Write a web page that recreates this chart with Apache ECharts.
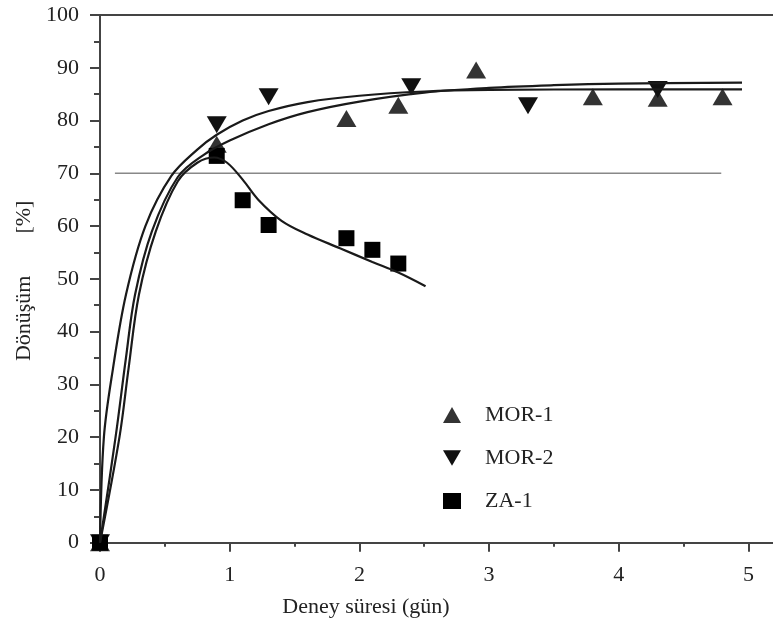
<!DOCTYPE html>
<html><head><meta charset="utf-8">
<script src="https://cdn.jsdelivr.net/npm/echarts@6/dist/echarts.min.js"></script>
<style>html,body{margin:0;padding:0;background:#fff}#c{width:773px;height:632px}</style>
</head><body><div id="c"></div>
<script>
// ---- data ----
const xMajorTicks = [0, 1, 2, 3, 4, 5];
const xMinorTicks = [0.5, 1.5, 2.5, 3.5, 4.5];
const yMajorTicks = [0, 10, 20, 30, 40, 50, 60, 70, 80, 90, 100];
const yMinorTicks = [5, 15, 25, 35, 45, 55, 65, 75, 85, 95];

const mor1X = [0, 0.9, 1.9, 2.3, 2.9, 3.8, 4.3, 4.8];
const mor1Y = [0, 75.5, 80.4, 82.9, 89.6, 84.5, 84.2, 84.5];
const mor2X = [0, 0.9, 1.3, 2.4, 3.3, 4.3];
const mor2Y = [0, 79.2, 84.5, 86.4, 82.8, 85.9];
const za1X = [0, 0.9, 1.1, 1.3, 1.9, 2.1, 2.3];
const za1Y = [0, 73.3, 64.9, 60.2, 57.7, 55.5, 52.9];

// fitted curves
const fitMor2X = [0, 0.03, 0.1, 0.2, 0.35, 0.55, 0.75, 0.9, 1.1, 1.3, 1.6, 2, 2.5, 3, 4, 4.95];
const fitMor2Y = [0, 20, 33, 47, 60, 69.5, 74.5, 77.3, 80, 81.8, 83.5, 84.7, 85.5, 85.8, 85.9, 85.9];
const fitMor1X = [0, 0.12, 0.2, 0.27, 0.4, 0.6, 0.8, 1, 1.3, 1.6, 2, 2.5, 3, 3.5, 4, 4.95];
const fitMor1Y = [0, 20, 35, 47, 59, 69.3, 73.5, 76.2, 79.3, 81.6, 83.6, 85.3, 86.2, 86.7, 87, 87.2];
const fitZa1X = [0, 0.15, 0.22, 0.3, 0.43, 0.6, 0.75, 0.88, 0.98, 1.1, 1.22, 1.4, 1.6, 1.85, 2.1, 2.3, 2.51];
const fitZa1Y = [0, 20, 33, 47, 59, 68.5, 72, 73, 72, 68.8, 65, 61, 58.4, 55.8, 53.2, 51.2, 48.6];

const refX = [0.115, 4.79];
const refY = [70, 70];

const names = ['MOR-1', 'MOR-2', 'ZA-1'];
const xName = 'Deney süresi (gün)';
const yNameMain = 'Dönüşüm';
const yNameUnit = '[%]';

// ---- helpers ----
const zip = (xs, ys) => xs.map((x, i) => [x, ys[i]]);
const FONT = "'Liberation Serif', 'Times New Roman', serif";
const AX = '#444';
const TXT = '#222';
const downTri = 'path://M0,0L20,0L10,17Z';

const baseX = { type: 'value', min: -0.0386, max: 5.189, gridIndex: 0, splitLine: { show: false } };
const baseY = { type: 'value', min: -0.76, max: 100, gridIndex: 0, splitLine: { show: false } };

const fitLine = (name, xs, ys) => ({
  name: name, type: 'line', data: zip(xs, ys), symbol: 'none', smooth: 0.35, z: 4,
  lineStyle: { color: '#1a1a1a', width: 2.2 }
});

const chart = echarts.init(document.getElementById('c'), null, { renderer: 'canvas' });
chart.setOption({
  backgroundColor: '#fff',
  animation: false,
  grid: { left: 95, right: 0, top: 15, bottom: 85.3, containLabel: false, outerBoundsMode: 'none' },
  xAxis: [
    Object.assign({}, baseX, {
      position: 'bottom',
      axisLine: { show: true, lineStyle: { color: AX, width: 2 } },
      axisTick: { show: true, inside: false, length: 9, customValues: xMajorTicks, lineStyle: { color: AX, width: 2 } },
      axisLabel: { show: true, customValues: xMajorTicks, margin: 18, color: TXT, fontFamily: FONT, fontSize: 22 },
      name: xName, nameLocation: 'middle', nameGap: 50,
      nameTextStyle: { color: TXT, fontFamily: FONT, fontSize: 22, padding: [0, 136, 0, 0] }
    }),
    Object.assign({}, baseX, {
      position: 'bottom',
      axisLine: { show: false },
      axisTick: { show: true, inside: false, length: 4, customValues: xMinorTicks, lineStyle: { color: AX, width: 2 } },
      axisLabel: { show: false }
    }),
    Object.assign({}, baseX, {
      position: 'top',
      axisLine: { show: true, lineStyle: { color: AX, width: 2 } },
      axisTick: { show: false },
      axisLabel: { show: false }
    })
  ],
  yAxis: [
    Object.assign({}, baseY, {
      position: 'left',
      axisLine: { show: true, lineStyle: { color: AX, width: 2 } },
      axisTick: { show: true, inside: false, length: 10, customValues: yMajorTicks, lineStyle: { color: AX, width: 2 } },
      axisLabel: { show: true, customValues: yMajorTicks, margin: 16, color: TXT, fontFamily: FONT, fontSize: 22 },
      name: '{t|' + yNameMain + '}{s|}{t|' + yNameUnit + '}',
      nameLocation: 'middle', nameGap: 55, nameRotate: 90,
      nameTextStyle: {
        rich: {
          t: { color: TXT, fontFamily: FONT, fontSize: 22 },
          s: { width: 42 }
        }
      }
    }),
    Object.assign({}, baseY, {
      position: 'left',
      axisLine: { show: false },
      axisTick: { show: true, inside: false, length: 6, customValues: yMinorTicks, lineStyle: { color: AX, width: 2 } },
      axisLabel: { show: false }
    })
  ],
  legend: {
    orient: 'vertical', left: 438, top: 399, itemWidth: 18, itemHeight: 16, itemGap: 21,
    textStyle: { color: TXT, fontFamily: FONT, fontSize: 22, padding: [0, 0, 0, 19] },
    data: [
      { name: names[0], icon: 'triangle' },
      { name: names[1], icon: downTri },
      { name: names[2], icon: 'rect' }
    ]
  },
  series: [
    { name: 'ref70', type: 'line', data: zip(refX, refY), symbol: 'none', z: 1,
      lineStyle: { color: '#888', width: 1.5 }, silent: true },
    fitLine('fit-' + names[0], fitMor1X, fitMor1Y),
    fitLine('fit-' + names[1], fitMor2X, fitMor2Y),
    fitLine('fit-' + names[2], fitZa1X, fitZa1Y),
    { name: names[0], type: 'scatter', data: zip(mor1X, mor1Y), symbol: 'triangle', symbolSize: [20, 17], z: 3,
      itemStyle: { color: '#333', opacity: 1 } },
    { name: names[1], type: 'scatter', data: zip(mor2X, mor2Y), symbol: downTri, symbolSize: [20, 17], z: 3,
      itemStyle: { color: '#111', opacity: 1 } },
    { name: names[2], type: 'scatter', data: zip(za1X, za1Y), symbol: 'rect', symbolSize: 16, z: 3,
      itemStyle: { color: '#000', opacity: 1 } }
  ]
});
</script>
</body></html>
